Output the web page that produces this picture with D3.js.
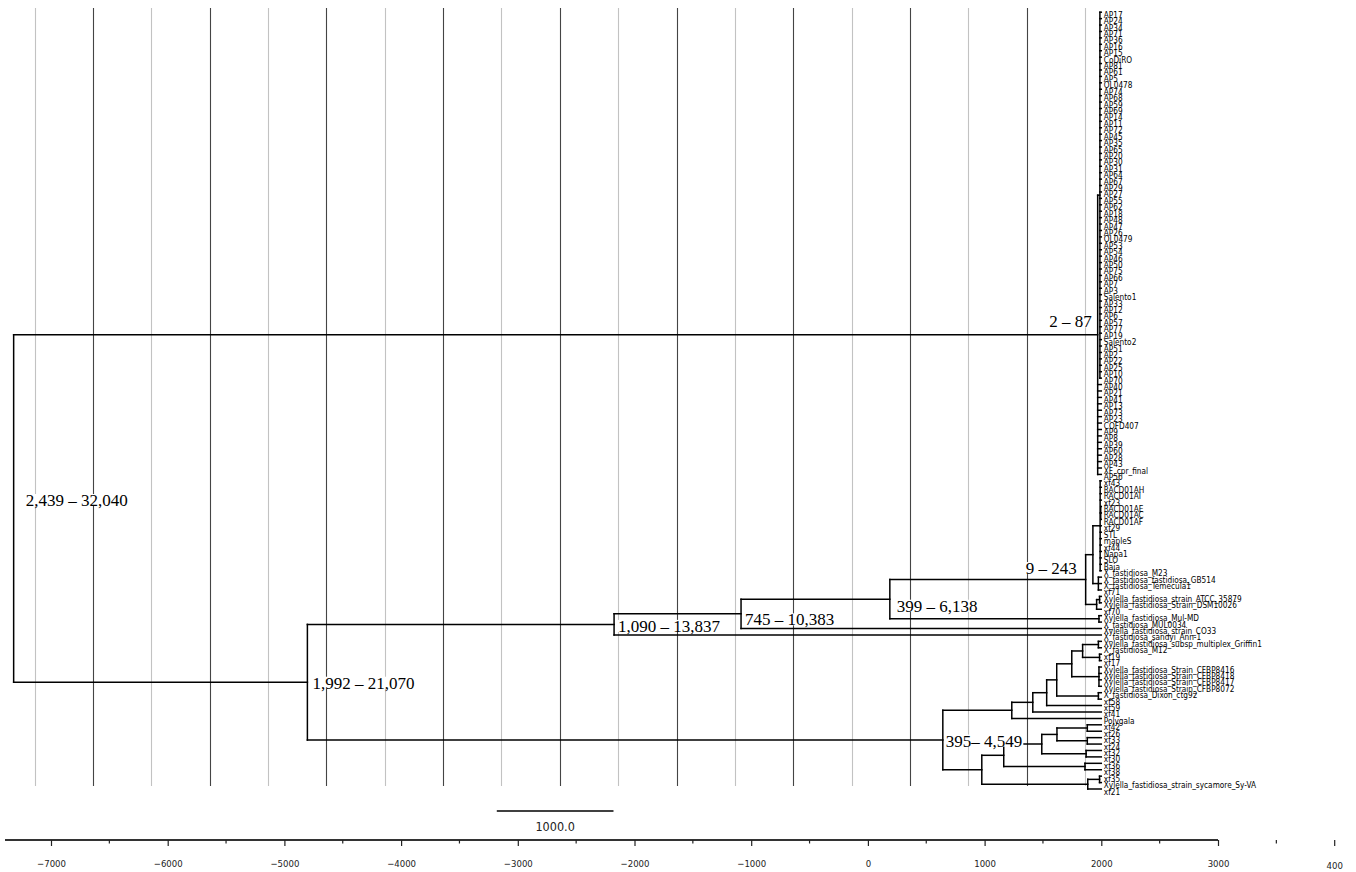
<!DOCTYPE html>
<html><head><meta charset="utf-8">
<script src="https://cdn.jsdelivr.net/npm/d3@7"></script>
<style>body{margin:0;background:#fff}svg{display:block}</style>
</head><body>
<svg id="chart" width="1356" height="872"></svg>
<script>
// Time-calibrated tree; internal node ages (axis units) follow each closing parenthesis.
const apClade = "((AP17,AP24,AP34,AP71,AP36,AP16,AP15,CoDiRO,AP81,AP61,AP5,OL0478,AP74,AP68,AP59,AP69,AP14,AP11,AP72,AP45,AP35,AP65,AP20,AP30,AP31,AP64,AP67,AP29,AP27,AP55,AP62,AP18,AP48,AP47,AP26,OL0479,AP53,AP54,AP46,AP50,AP75,AP66,AP7,AP3,Salento1,AP33,AP12,AP6,AP57,AP77,AP19,Salento2,AP51,AP2,AP22,AP25,AP10,AP70)1988,AP40,AP21,AP41,AP13,AP73,AP23,COFD407,AP9,AP8,AP39,AP60,AP28,AP43,XF_cpr_final,AP56)1969";
const fastidiosaClade = "((((xf43,RACD01AH,RACD01AI,xf23,(RACD01AE,RACD01AC,RACD01AF)1995,xf29,STL,mapleS,xf44,Napa1,SLO,Baja,X_fastidiosa_M23)1990,(X_fastidiosa_fastidiosa_GB514,X_fastidiosa_Temecula1,xf71)1975)1928,((Xylella_fastidiosa_strain_ATCC_35879,Xylella_fastidiosa_Strain_DSM10026)1985,xf70)1960)1866,(Xylella_fastidiosa_Mul-MD,X_fastidiosa_MUL0034)1980)188";
const sandyiClade = "((" + fastidiosaClade + ",Xylella_fastidiosa_strain_CO33)-1087,X_fastidiosa_sandyi_Ann-1)-2175";
const multiplexClade = "((((((((Xylella_fastidiosa_subsp_multiplex_Griffin1,X_fastidiosa_M12)1975,(xf19,xf17)1985)1840,(Xylella_fastidiosa_Strain_CFBP8416,Xylella_fastidiosa_Strain_CFBP8418,Xylella_fastidiosa_Strain_CFBP8417,Xylella_fastidiosa_Strain_CFBP8072)1980)1747,(X_fastidiosa_Dixon_ctg92,xf58)1975)1618,xf59)1532,xf41)1413,Polygala)1233,(((((xf42,xf26)1880,(xf33,xf24)1880)1620,(xf32,xf30)1870)1490,(xf36,xf38)1860)1164,((xf35,Xylella_fastidiosa_strain_sycamore_Sy-VA)1985,xf21)1884)976)642";
const treeNewick = "(" + apClade + ",(" + sandyiClade + "," + multiplexClade + ")-4803)-7320";

// 95% HPD age ranges shown at selected nodes, keyed by node age
const nodeRangeAges = [-7320, -4803, -2175, -1087, 188, 642, 1866, 1969];
const nodeRangeTexts = ["2,439 – 32,040", "1,992 – 21,070", "1,090 – 13,837", "745 – 10,383", "399 – 6,138", "395– 4,549", "9 – 243", "2 – 87"];

const tipAge = 2000;
const axisMajor = [-7000, -6000, -5000, -4000, -3000, -2000, -1000, 0, 1000, 2000, 3000];
const axisMinor = [-6500, -5500, -4500, -3500, -2500, -1500, -500, 500, 1500, 2500];
const axisStray = [3500, 4000];
const axisStrayLabels = ["", "400"];
const gridAges = [-7140, -6640, -6140, -5640, -5140, -4640, -4140, -3640, -3140, -2640, -2140, -1640, -1140, -640, -140, 360, 860, 1360, 1860];
const scaleBar = [-3180, -2180];
const scaleBarLabel = "1000.0";

// ---- Newick parsing ----
function parseNewick(s) {
  let i = 0;
  function readLabel() {
    const st = i;
    while (i < s.length && !"(),".includes(s[i])) i++;
    return s.slice(st, i);
  }
  function node() {
    if (s[i] === "(") {
      i++;
      const children = [node()];
      while (s[i] === ",") { i++; children.push(node()); }
      i++; // ')'
      return { children, age: +readLabel() };
    }
    return { name: readLabel(), age: tipAge };
  }
  return node();
}

const root = parseNewick(treeNewick);
const tips = [];
(function collect(n) { if (n.children) n.children.forEach(collect); else tips.push(n); })(root);

const svg = d3.select("#chart");
const x = d3.scaleLinear().domain([-7000, 3000]).range([51, 1218]);
const yTip = d3.scaleLinear().domain([0, tips.length - 1]).range([12.2, 789]);
tips.forEach((t, k) => t.y = yTip(k));
(function place(n) {
  if (n.children) {
    n.children.forEach(place);
    n.y = (n.children[0].y + n.children[n.children.length - 1].y) / 2;
  }
})(root);

// grid
svg.append("g").selectAll("line").data(gridAges).join("line")
  .attr("x1", d => Math.round(x(d)) + 0.5).attr("x2", d => Math.round(x(d)) + 0.5)
  .attr("y1", 8).attr("y2", 786)
  .attr("stroke", (d, k) => k % 2 ? "#444" : "#c2c2c2").attr("stroke-width", 1.1);

// branches
const segs = [];
(function edges(n) {
  if (!n.children) return;
  const first = n.children[0], last = n.children[n.children.length - 1];
  segs.push([x(n.age), first.y, x(n.age), last.y]);
  n.children.forEach(c => { segs.push([x(n.age), c.y, x(c.age), c.y]); edges(c); });
})(root);
svg.append("g").selectAll("line").data(segs).join("line")
  .attr("x1", d => d[0]).attr("y1", d => d[1]).attr("x2", d => d[2]).attr("y2", d => d[3])
  .attr("stroke", "#000").attr("stroke-width", 1.5).attr("stroke-linecap", "square");

// tip labels
svg.append("g").selectAll("text").data(tips).join("text")
  .attr("x", d => x(d.age) + 2.5).attr("y", d => d.y + 5.5)
  .attr("font-family", "DejaVu Sans Condensed, DejaVu Sans, sans-serif").attr("font-size", 8.2).attr("fill", "#000")
  .text(d => d.name);

// node range labels (white-backed), placed beside their nodes
const internal = [];
(function coll(n) { if (n.children) { internal.push(n); n.children.forEach(coll); } })(root);
const placement = {
  "-7320": { side: "right", dx: 12, dy: -8 },
  "-4803": { side: "right", dx: 5, dy: 1 },
  "-2175": { side: "right", dx: 4, dy: 2 },
  "-1087": { side: "right", dx: 4, dy: 6 },
  "188": { side: "right", dx: 7, dy: 7 },
  "642": { side: "right", dx: 3, dy: 1 },
  "1866": { side: "left", dx: -9, dy: -11 },
  "1969": { side: "left", dx: -6, dy: -13 }
};
const rangeG = svg.append("g");
nodeRangeAges.forEach((age, k) => {
  const n = internal.find(d => d.age === age);
  if (!n) return;
  const p = placement[String(age)];
  const g = rangeG.append("g");
  const t = g.append("text").attr("font-family", "Liberation Serif, serif").attr("font-size", 17)
    .attr("fill", "#000").attr("dominant-baseline", "central")
    .attr("text-anchor", p.side === "left" ? "end" : "start")
    .attr("x", x(age) + p.dx).attr("y", n.y + p.dy)
    .text(nodeRangeTexts[k]);
  const bb = t.node().getBBox();
  g.insert("rect", "text").attr("x", bb.x - 1).attr("y", bb.y + 3).attr("width", bb.width + 2).attr("height", bb.height - 7).attr("fill", "#fff");
});

// scale bar
svg.append("line").attr("x1", x(scaleBar[0])).attr("x2", x(scaleBar[1])).attr("y1", 811).attr("y2", 811)
  .attr("stroke", "#000").attr("stroke-width", 1.5);
svg.append("text").attr("x", (x(scaleBar[0]) + x(scaleBar[1])) / 2).attr("y", 831).attr("text-anchor", "middle")
  .attr("font-family", "DejaVu Sans Condensed, DejaVu Sans, sans-serif").attr("font-size", 12.5).attr("fill", "#222").text(scaleBarLabel);

// bottom axis
const axisY = 840;
const ax = svg.append("g").attr("transform", `translate(0,${axisY})`);
ax.call(d3.axisBottom(x).tickValues(axisMajor).tickSize(6).tickPadding(14).tickFormat(d3.format("d")));
ax.select(".domain").attr("d", `M5,0H${x(3000)}`).attr("stroke", "#333").attr("stroke-width", 2);
ax.selectAll(".tick line").attr("stroke", "#222").attr("stroke-width", 1.2);
ax.selectAll(".tick text").attr("font-family", "DejaVu Sans Condensed, DejaVu Sans, sans-serif").attr("font-size", 9.5).attr("fill", "#222");
ax.selectAll(".minor").data(axisMinor).join("line").attr("class", "minor")
  .attr("x1", d => x(d)).attr("x2", d => x(d)).attr("y1", 0).attr("y2", 3.5).attr("stroke", "#222").attr("stroke-width", 1.2);
const stray = ax.selectAll(".stray").data(axisStray).join("g").attr("class", "stray")
  .attr("transform", d => `translate(${x(d)},0)`);
stray.append("line").attr("y1", 0).attr("y2", (d, k) => k ? 6 : 3.5).attr("stroke", "#222").attr("stroke-width", 1.2);
stray.append("text").attr("y", 29).attr("text-anchor", "middle").attr("font-family", "DejaVu Sans Condensed, DejaVu Sans, sans-serif")
  .attr("font-size", 9.5).attr("fill", "#222").text((d, k) => axisStrayLabels[k]);
</script>
</body></html>
